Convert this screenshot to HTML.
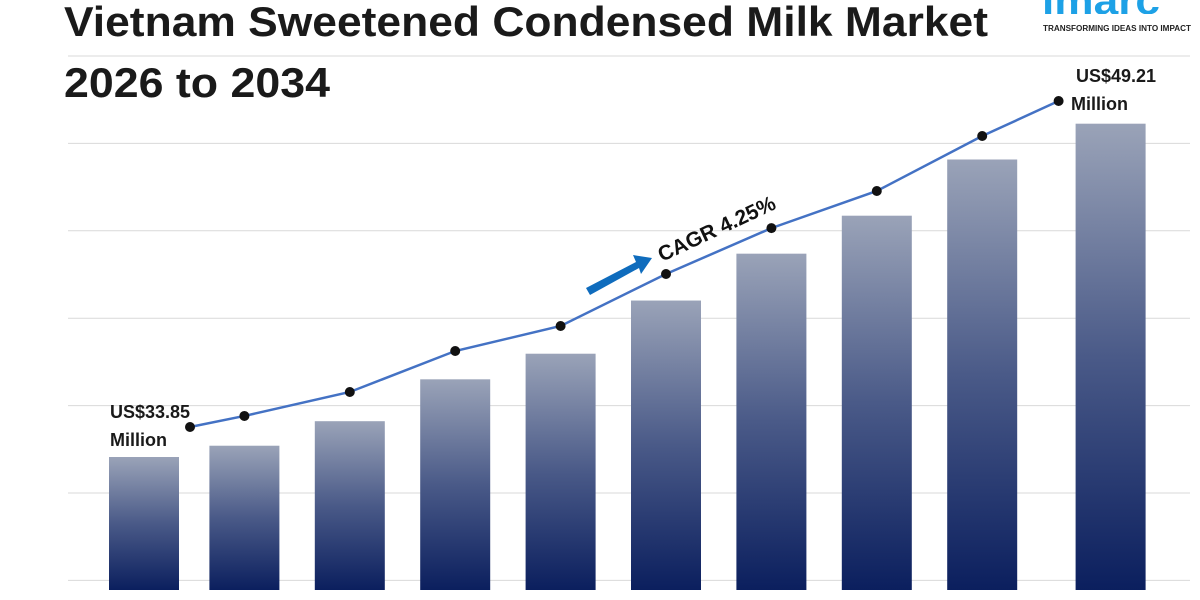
<!DOCTYPE html>
<html><head><meta charset="utf-8"><style>
html,body{margin:0;padding:0;background:#fff;width:1200px;height:600px;overflow:hidden}
svg{display:block;font-family:"Liberation Sans",sans-serif}
</style></head><body>
<svg id="chart" width="1200" height="600" viewBox="0 0 1200 600">
<defs>
<linearGradient id="barGrad" x1="0" y1="0" x2="0" y2="1">
<stop offset="0" stop-color="#9aa3b8"/>
<stop offset="0.5" stop-color="#4a5a88"/>
<stop offset="1" stop-color="#0b1f5e"/>
</linearGradient>
</defs>
<g id="grid"></g>
<text x="64" y="36" font-size="42" font-weight="bold" fill="#1a1a1a" textLength="924" lengthAdjust="spacingAndGlyphs">Vietnam Sweetened Condensed Milk Market</text>
<text x="64" y="97" font-size="42" font-weight="bold" fill="#1a1a1a" textLength="266" lengthAdjust="spacingAndGlyphs">2026 to 2034</text>
<g>
<text x="1042" y="14" font-size="40" font-weight="bold" fill="#1da1e6" textLength="118" lengthAdjust="spacingAndGlyphs">imarc</text>
<rect x="1035" y="14" width="130" height="12" fill="#fff"/>
<text x="1043" y="31" font-size="8" font-weight="bold" fill="#222" textLength="148" lengthAdjust="spacingAndGlyphs">TRANSFORMING IDEAS INTO IMPACT</text>
</g>
<g id="bars"></g>
<g id="line"></g>
<g>
<polygon points="586,288 636,262 633,255 652,258 641,274 639,268 590,295" fill="#0f6cbd"/>
</g>
<text transform="translate(662,262) rotate(-25)" font-size="21" font-weight="bold" fill="#111">CAGR 4.25%</text>
<text x="110" y="418" font-size="18" font-weight="bold" fill="#1a1a1a">US$33.85</text>
<text x="110" y="446" font-size="18" font-weight="bold" fill="#1a1a1a">Million</text>
<text x="1076" y="82" font-size="18" font-weight="bold" fill="#1a1a1a">US$49.21</text>
<text x="1071" y="110" font-size="18" font-weight="bold" fill="#1a1a1a">Million</text>
</svg>
<script>
const years = ["2026","2027","2028","2029","2030","2031","2032","2033","2034","2035"];
const values = [33.85,34.37,35.50,37.43,38.61,41.06,43.22,44.97,47.56,49.21];
const gridTicks = [0,1,2,3,4,5,6];

const NS="http://www.w3.org/2000/svg";
const n=values.length;
function xBand(i){return 139+105.4*i;}
function barX(i){return xBand(i)+(i===n-1?23:(i===0?5:0));}
const barBottom=590,barW=70;
function barTop(v){return barBottom-(133+(v-values[0])*21.7);}
function lineY(v){return 427-(v-33.85)*(326/15.36);}
function lineX(i){let x=xBand(i);if(i===0)x+=51;if(i===n-1)x-=29;return x;}

const grid=document.getElementById('grid');
gridTicks.forEach(t=>{
  const l=document.createElementNS(NS,'line');
  const y=56+t*87.4;
  l.setAttribute('x1',68);l.setAttribute('x2',1190);
  l.setAttribute('y1',y);l.setAttribute('y2',y);
  l.setAttribute('stroke','#d9d9d9');l.setAttribute('stroke-width','1');
  
  
  grid.appendChild(l);
});
const bars=document.getElementById('bars');
values.forEach((v,i)=>{
  const r=document.createElementNS(NS,'rect');
  const t=barTop(v);
  r.setAttribute('x',barX(i)-barW/2);r.setAttribute('y',t);
  r.setAttribute('width',barW);r.setAttribute('height',barBottom-t);
  r.setAttribute('fill','url(#barGrad)');
  
  
  bars.appendChild(r);
});
const lg=document.getElementById('line');
const p=document.createElementNS(NS,'polyline');
p.setAttribute('points',values.map((v,i)=>lineX(i)+','+lineY(v)).join(' '));
p.setAttribute('fill','none');p.setAttribute('stroke','#4472c4');p.setAttribute('stroke-width','2.5');


lg.appendChild(p);
values.forEach((v,i)=>{
  const c=document.createElementNS(NS,'circle');
  c.setAttribute('cx',lineX(i));c.setAttribute('cy',lineY(v));c.setAttribute('r',5);
  c.setAttribute('fill','#111');
  
  
  lg.appendChild(c);
});
</script>
</body></html>
